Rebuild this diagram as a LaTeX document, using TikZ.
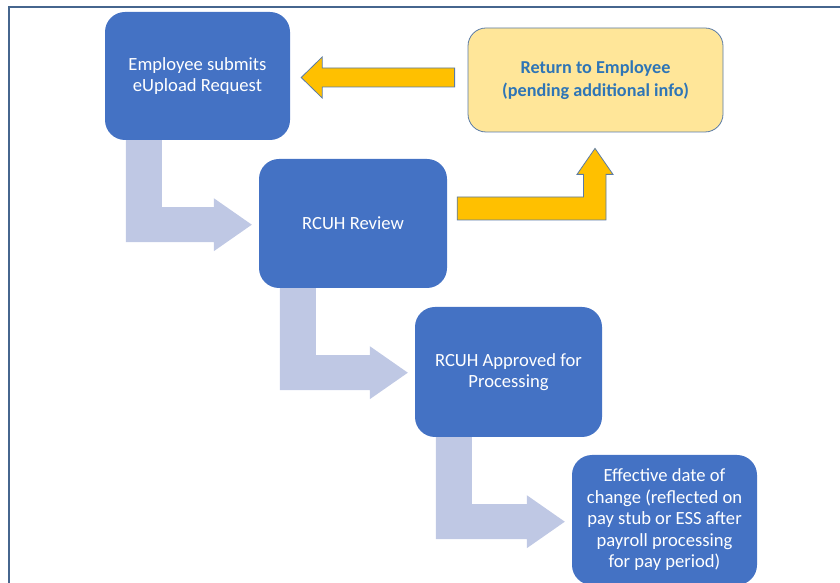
\documentclass[tikz,border=0pt]{standalone}
\usepackage{fontspec}
\setmainfont{Carlito}
\usetikzlibrary{calc}
\definecolor{stepblue}{HTML}{4472C4}
\definecolor{flowblue}{RGB}{191,200,228}
\definecolor{notefill}{HTML}{FFE699}
\definecolor{notetext}{HTML}{2E75B6}
\definecolor{loopfill}{HTML}{FFC000}
\definecolor{edgeblue}{HTML}{5A7BA6}
\definecolor{framecol}{HTML}{46668E}
\tikzset{
  stepbox/.style={fill=stepblue, draw=none, rounded corners=20pt,
    text=white, align=center, font=\fontsize{18.6}{21.5}\selectfont, inner sep=0pt},
  notebox/.style={fill=notefill, draw=edgeblue, line width=0.8pt, rounded corners=18pt,
    text=notetext, align=center, font=\bfseries\fontsize{18.2}{23}\selectfont, inner sep=0pt},
  flowarrow/.style={fill=flowblue, draw=none},
  looparrow/.style={fill=loopfill, draw=edgeblue, line width=0.8pt, line join=miter},
}
% bent block arrow leaving the bottom of one step and pointing at the next
\newcommand\stepflow[2]{%
  \fill[flowarrow] let \p1=($(#1.south west)+(21,0)$), \p2=($(#2.west)+(-7,0)$) in
    (\x1,\y1) -- (\x1+36,\y1) -- (\x1+36,\y1-67) -- (\x2-38,\y1-67) -- (\x2-38,\y1-58)
    -- (\x2,\y1-84.5) -- (\x2-38,\y1-111) -- (\x2-38,\y1-102) -- (\x1,\y1-102) -- cycle;}
\begin{document}
\begin{tikzpicture}[x=1pt,y=1pt]
\useasboundingbox (0,0) rectangle (840,583);
\begin{scope}
\clip (0,0) rectangle (840,583);
% outer frame
\draw[framecol, line width=1.5pt] (9,-20) -- (9,576) -- (860,576);

% process steps
\node[stepbox, minimum width=185pt, minimum height=128pt] (submit) at (197.5,507)
  {Employee submits\\eUpload Request};
\node[stepbox, minimum width=188pt, minimum height=129pt] (review) at (353,359.5)
  {RCUH Review};
\node[stepbox, minimum width=187pt, minimum height=130pt] (approved) at (508.5,211)
  {RCUH Approved for\\Processing};
\node[stepbox, minimum width=185pt, minimum height=130pt] (effective) at (664.5,63)
  {Effective date of\\change (reflected on\\pay stub or ESS after\\payroll processing\\for pay period)};

% return loop box
\node[notebox, minimum width=255pt, minimum height=104pt] (return) at (595.5,503)
  {Return to Employee\\(pending additional info)};

% forward flow
\stepflow{submit}{review}
\stepflow{review}{approved}
\stepflow{approved}{effective}

% review -> return (bent up arrow)
\filldraw[looparrow] let \p1=(review.east), \p2=(return.south) in
  (\x1+10,\y1+3.5) -- (\x2+10.5,\y1+3.5) -- (\x2+10.5,\y2-42) -- (\x2+17.5,\y2-42)
  -- (\x2-0.5,\y2-16) -- (\x2-18.5,\y2-42) -- (\x2-12,\y2-42) -- (\x2-12,\y1+26.5)
  -- (\x1+10,\y1+26.5) -- cycle;

% return -> submit (left arrow)
\filldraw[looparrow] let \p1=(return.west), \p2=(submit.east) in
  (\x1-13,\y1-7) -- (\x2+32,\y1-7) -- (\x2+32,\y1-18) -- (\x2+11,\y1+2.5)
  -- (\x2+32,\y1+23) -- (\x2+32,\y1+12) -- (\x1-13,\y1+12) -- cycle;
\end{scope}
\end{tikzpicture}
\end{document}
